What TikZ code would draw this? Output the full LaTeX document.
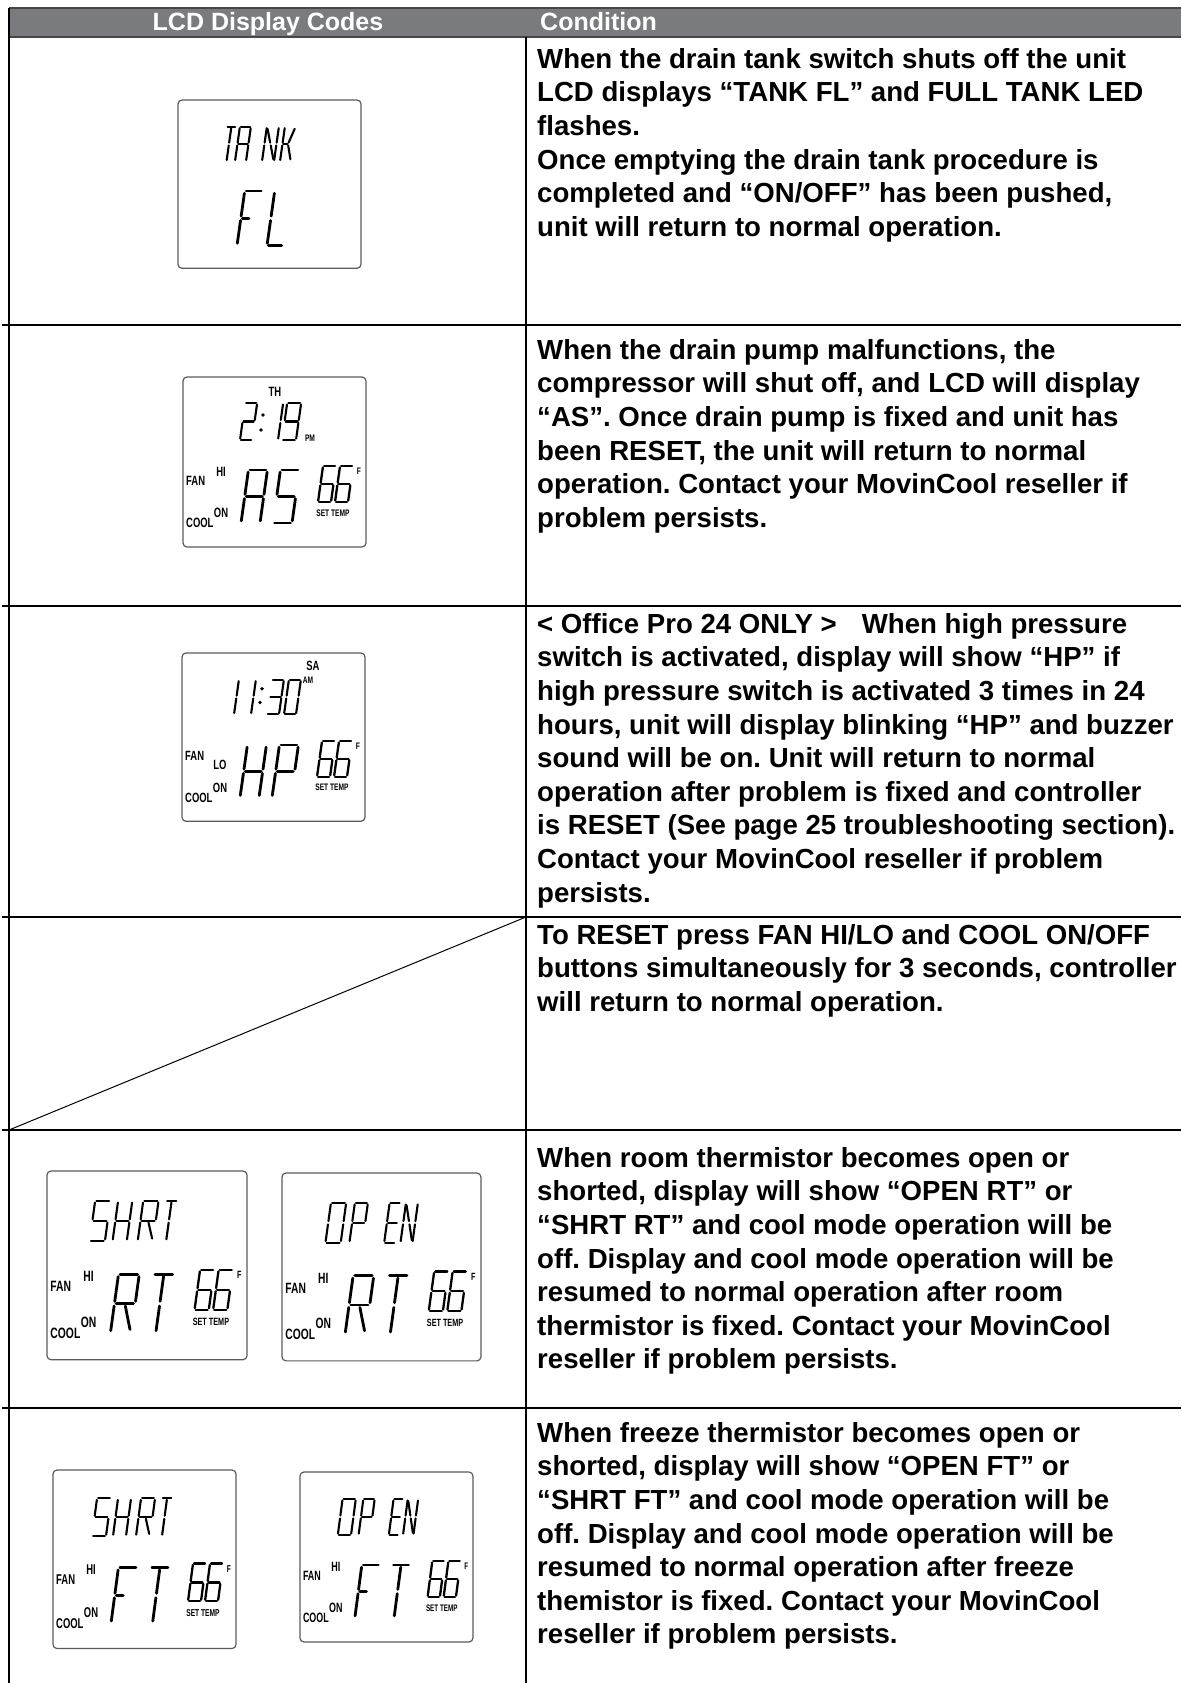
\documentclass[tikz,border=0pt]{standalone}
\usepackage{fontspec}
\setmainfont{Liberation Sans}
\newfontfamily\lcdfont{Liberation Sans}[FakeStretch=0.7]
\usetikzlibrary{positioning}
\frenchspacing

\definecolor{headgray}{RGB}{122,123,127}
\definecolor{headline}{RGB}{70,70,72}
\definecolor{boxgray}{RGB}{90,90,90}

% segments of one lcd character, cell (0,0)--(1,1)
\newcommand{\lcdsega}{\draw (0.08,1) -- (0.92,1);}
\newcommand{\lcdsegb}{\draw (1,0.96) -- (1,0.54);}
\newcommand{\lcdsegc}{\draw (1,0.46) -- (1,0.04);}
\newcommand{\lcdsegd}{\draw (0.08,0) -- (0.92,0);}
\newcommand{\lcdsege}{\draw (0,0.46) -- (0,0.04);}
\newcommand{\lcdsegf}{\draw (0,0.96) -- (0,0.54);}
\newcommand{\lcdsegg}{\draw (0.08,0.5) -- (0.92,0.5);}
\newcommand{\lcdsegh}{\draw (0.08,0.5) -- (0.45,0.5);}
\newcommand{\lcdsegm}{\draw (0.5,0.96) -- (0.5,0.54);}
\newcommand{\lcdsegn}{\draw (0.5,0.46) -- (0.5,0.04);}
\newcommand{\lcdsegp}{\draw (0.08,0.94) -- (0.46,0.54);}
\newcommand{\lcdsegq}{\draw (0.54,0.46) -- (0.92,0.06);}
\newcommand{\lcdsegr}{\draw (0.54,0.54) -- (0.92,0.94);}

% [stroke]{x}{y}{width}{height}{segments}, (x,y) = lower left
\newcommand{\lcdchar}[6][2.1pt]{%
  \begin{scope}[shift={(#2,#3)}, x=#4pt, y=#5pt, xslant=0.14,
      line width=#1, line cap=round]
    \foreach \sg in {#6} {\csname lcdseg\sg\endcsname}
  \end{scope}}

% display frame, 183 x 170 before scaling
\newcommand{\lcdpanel}[4]{%
  \begin{scope}[shift={#1}, xscale=#2, yscale=#3, every node/.append style={transform shape}]
    \draw[lcdframe] (0,0) rectangle (183,170);
    #4
  \end{scope}}

% lower half: fan / cool labels, two big characters, set temp
\newcommand{\lcdlower}[5]{%
  \node[lcdlabel, anchor=west] (#1fan) at (3,104) {FAN};
  \node[lcdlabel] (#1speed) at (38,#3) {#2};
  \node[lcdlabel, anchor=west] (#1cool) at (3,146) {COOL};
  \node[lcdlabel] (#1on) at (38,136) {ON};
  \lcdchar[2.8pt]{58}{146}{19}{53}{#4}
  \lcdchar[2.8pt]{90}{146}{19}{53}{#5}
  \lcdchar[2.3pt]{135}{125}{13}{36}{a,c,d,e,f,g}
  \lcdchar[2.3pt]{152}{125}{13}{36}{a,c,d,e,f,g}
  \node[lcdtiny] (#1unit) at (176,94) {F};
  \node[lcdtiny] (#1set) at (150,136) {SET TEMP};}

\begin{document}
\begin{tikzpicture}[x=1pt, y=-1pt,
    rowline/.style={line width=1.2pt},
    lcdframe/.style={draw=boxgray, line width=1.2pt, rounded corners=4pt},
    condtext/.style={anchor=north west, inner sep=0pt, align=left,
      font=\bfseries\fontsize{27.6}{33.6}\selectfont},
    headtext/.style={text=white, inner sep=0pt,
      font=\bfseries\fontsize{25}{25}\selectfont},
    lcdlabel/.style={inner sep=0pt, font=\lcdfont\bfseries\fontsize{13.5}{13.5}\selectfont},
    lcdtiny/.style={inner sep=0pt, font=\lcdfont\bfseries\fontsize{9.5}{9.5}\selectfont}]
  \useasboundingbox (0,0) rectangle (1181,1683);

  % header
  \fill[headgray] (9,8) rectangle (1181,37);
  \draw[headline, line width=1.2pt] (9,8) -- (1181,8);
  \draw[headline, line width=2pt] (9,37) -- (1181,37);
  \node[headtext, anchor=base] (codes) at (268,31) {LCD Display Codes};
  \node[headtext, anchor=base west] (cond) at (540,31) {Condition};

  % table lines
  \draw[rowline] (9,8) -- (9,1683);
  \draw[rowline] (526,37) -- (526,1683);
  \foreach \ry in {325,606,917,1130,1408}
    \draw[rowline] (2,\ry) -- (1181,\ry);
  \draw[line width=1pt] (526,917) -- (9,1130);

  % row 1: tank full
  \lcdpanel{(178,100)}{1.0}{0.99}{%
    \lcdchar{44}{62}{9}{35}{a,m,n}
    \lcdchar{57}{62}{11}{35}{a,b,c,e,f,g}
    \lcdchar{84}{62}{12}{35}{b,c,e,f,p,q}
    \lcdchar{102}{62}{11}{35}{e,f,h,r,q}
    \lcdchar[2.8pt]{59}{147}{18}{55}{a,e,f,h}
    \lcdchar[2.8pt]{89}{147}{16}{55}{d,e,f}
  }
  \node[condtext] (cond1) at (537,48) {When the drain tank switch shuts off the unit\\
    LCD displays “TANK FL” and FULL TANK LED\\
    flashes.\\
    Once emptying the drain tank procedure is\\
    completed and “ON/OFF” has been pushed,\\
    unit will return to normal operation.};

  % row 2: drain pump
  \lcdpanel{(183,377)}{1.0}{1.0}{%
    \node[lcdlabel] (asday) at (92,15) {TH};
    \lcdchar{57}{63}{12}{37}{a,b,d,e,g}
    \fill (80,38) circle (1.9); \fill (78,53) circle (1.9);
    \lcdchar{82}{63}{13}{37}{b,c}
    \lcdchar{99}{63}{14}{37}{a,b,c,d,f,g}
    \node[lcdtiny] (aspm) at (127,61) {PM};
    \lcdlower{as}{HI}{95}{a,b,c,e,f,g}{a,c,d,f,g}
  }
  \node[condtext] (cond2) at (537,339) {When the drain pump malfunctions, the\\
    compressor will shut off, and LCD will display\\
    “AS”. Once drain pump is fixed and unit has\\
    been RESET, the unit will return to normal\\
    operation. Contact your MovinCool reseller if\\
    problem persists.};

  % row 3: high pressure
  \lcdpanel{(182,653)}{1.0}{0.99}{%
    \node[lcdlabel] (hpday) at (131,13) {SA};
    \lcdchar{38}{62}{14}{35}{b,c}
    \lcdchar{55}{62}{14}{35}{b,c}
    \fill (80,36) circle (1.9); \fill (78,50) circle (1.9);
    \lcdchar{85}{62}{12}{35}{a,b,c,d,g}
    \lcdchar{102}{62}{12}{35}{a,b,c,d,e,f}
    \node[lcdtiny] (hpam) at (126,28) {AM};
    \lcdlower{hp}{LO}{113}{b,c,e,f,g}{a,b,e,f,g}
  }
  \node[condtext] (cond3) at (537,613) {< Office Pro 24 ONLY >\hspace{25pt}When high pressure\\
    switch is activated, display will show “HP” if\\
    high pressure switch is activated 3 times in 24\\
    hours, unit will display blinking “HP” and buzzer\\
    sound will be on. Unit will return to normal\\
    operation after problem is fixed and controller\\
    is RESET (See page 25 troubleshooting section).\\
    Contact your MovinCool reseller if problem\\
    persists.};

  % row 4: reset
  \node[condtext] (cond4) at (537,924) {To RESET press FAN HI/LO and COOL ON/OFF\\
    buttons simultaneously for 3 seconds, controller\\
    will return to normal operation.};

  % row 5: room thermistor
  \lcdpanel{(47,1171)}{1.093}{1.11}{%
    \lcdchar{39}{63}{14}{36}{a,c,d,f,g}
    \lcdchar{60}{63}{13}{36}{b,c,e,f,g}
    \lcdchar{83}{63}{14}{36}{a,b,e,f,g,q}
    \lcdchar{104}{63}{10}{36}{a,m,n}
    \lcdlower{rts}{HI}{95}{a,b,e,f,g,q}{a,m,n}
  }
  \lcdpanel{(282,1173)}{1.087}{1.105}{%
    \lcdchar{40}{63}{14}{36}{a,b,c,d,e,f}
    \lcdchar{62}{63}{12}{36}{a,b,e,f,g}
    \lcdchar{94}{63}{10}{36}{a,d,e,f,g}
    \lcdchar{109}{63}{11}{36}{b,c,e,f,p,q}
    \lcdlower{rto}{HI}{95}{a,b,e,f,g,q}{a,m,n}
  }
  \node[condtext] (cond5) at (537,1147) {When room thermistor becomes open or\\
    shorted, display will show “OPEN RT” or\\
    “SHRT RT” and cool mode operation will be\\
    off. Display and cool mode operation will be\\
    resumed to normal operation after room\\
    thermistor is fixed. Contact your MovinCool\\
    reseller if problem persists.};

  % row 6: freeze thermistor
  \lcdpanel{(53,1470)}{1.0}{1.05}{%
    \lcdchar{39}{63}{14}{36}{a,c,d,f,g}
    \lcdchar{60}{63}{13}{36}{b,c,e,f,g}
    \lcdchar{83}{63}{14}{36}{a,b,e,f,g,q}
    \lcdchar{104}{63}{10}{36}{a,m,n}
    \lcdlower{fts}{HI}{95}{a,e,f,h}{a,m,n}
  }
  \lcdpanel{(300,1472)}{0.945}{1.0}{%
    \lcdchar{40}{63}{14}{36}{a,b,c,d,e,f}
    \lcdchar{62}{63}{12}{36}{a,b,e,f,g}
    \lcdchar{94}{63}{10}{36}{a,d,e,f,g}
    \lcdchar{109}{63}{11}{36}{b,c,e,f,p,q}
    \lcdlower{fto}{HI}{95}{a,e,f,h}{a,m,n}
  }
  \node[condtext] (cond6) at (537,1422) {When freeze thermistor becomes open or\\
    shorted, display will show “OPEN FT” or\\
    “SHRT FT” and cool mode operation will be\\
    off. Display and cool mode operation will be\\
    resumed to normal operation after freeze\\
    themistor is fixed. Contact your MovinCool\\
    reseller if problem persists.};
\end{tikzpicture}
\end{document}
